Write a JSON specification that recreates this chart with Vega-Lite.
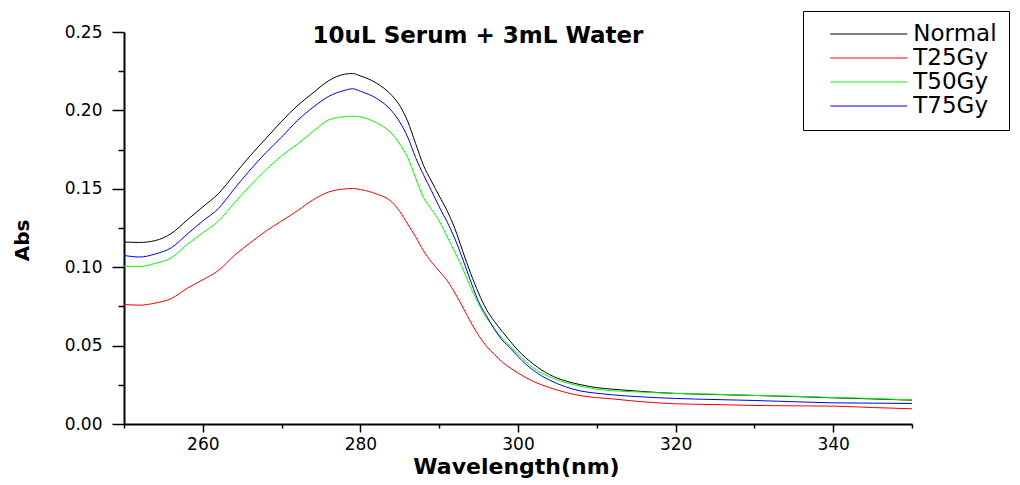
{
  "$schema": "https://vega.github.io/schema/vega-lite/v6.json",
  "width": 788,
  "height": 392,
  "autosize": {"type": "none"},
  "padding": {"left": 124, "top": 32, "right": 108, "bottom": 61},
  "background": "white",
  "config": {"view": {"stroke": null}, "font": "DejaVu Sans"},
  "title": {"text": "10uL Serum + 3mL Water", "font": "DejaVu Sans", "fontSize": 23, "fontWeight": "bold", "color": "black", "anchor": "middle", "frame": "group", "dx": -40, "dy": 55, "offset": 0, "baseline": "alphabetic"},
  "data": {"values": [
    {"w": 250, "Normal": 0.116, "T25Gy": 0.0762, "T50Gy": 0.1006, "T75Gy": 0.1075},
    {"w": 252, "Normal": 0.1158, "T25Gy": 0.0758, "T50Gy": 0.1005, "T75Gy": 0.1065},
    {"w": 254, "Normal": 0.117, "T25Gy": 0.0772, "T50Gy": 0.1025, "T75Gy": 0.1085},
    {"w": 256, "Normal": 0.1215, "T25Gy": 0.08, "T50Gy": 0.106, "T75Gy": 0.1124},
    {"w": 258, "Normal": 0.13, "T25Gy": 0.0865, "T50Gy": 0.1145, "T75Gy": 0.121},
    {"w": 260, "Normal": 0.1385, "T25Gy": 0.092, "T50Gy": 0.122, "T75Gy": 0.1295},
    {"w": 262, "Normal": 0.147, "T25Gy": 0.098, "T50Gy": 0.1295, "T75Gy": 0.1375},
    {"w": 264, "Normal": 0.159, "T25Gy": 0.1075, "T50Gy": 0.141, "T75Gy": 0.15},
    {"w": 266, "Normal": 0.171, "T25Gy": 0.1155, "T50Gy": 0.152, "T75Gy": 0.162},
    {"w": 268, "Normal": 0.182, "T25Gy": 0.123, "T50Gy": 0.1622, "T75Gy": 0.173},
    {"w": 270, "Normal": 0.193, "T25Gy": 0.1295, "T50Gy": 0.171, "T75Gy": 0.183},
    {"w": 272, "Normal": 0.203, "T25Gy": 0.136, "T50Gy": 0.1785, "T75Gy": 0.1935},
    {"w": 274, "Normal": 0.2112, "T25Gy": 0.143, "T50Gy": 0.1867, "T75Gy": 0.202},
    {"w": 276, "Normal": 0.219, "T25Gy": 0.148, "T50Gy": 0.194, "T75Gy": 0.209},
    {"w": 278, "Normal": 0.2231, "T25Gy": 0.1499, "T50Gy": 0.196, "T75Gy": 0.2128},
    {"w": 279, "Normal": 0.2235, "T25Gy": 0.1502, "T50Gy": 0.1963, "T75Gy": 0.2138},
    {"w": 280, "Normal": 0.222, "T25Gy": 0.1495, "T50Gy": 0.1958, "T75Gy": 0.2122},
    {"w": 282, "Normal": 0.2175, "T25Gy": 0.1468, "T50Gy": 0.1922, "T75Gy": 0.2078},
    {"w": 284, "Normal": 0.2095, "T25Gy": 0.1415, "T50Gy": 0.185, "T75Gy": 0.1995},
    {"w": 285, "Normal": 0.203, "T25Gy": 0.1355, "T50Gy": 0.1785, "T75Gy": 0.1925},
    {"w": 286, "Normal": 0.193, "T25Gy": 0.1275, "T50Gy": 0.17, "T75Gy": 0.183},
    {"w": 287, "Normal": 0.179, "T25Gy": 0.1195, "T50Gy": 0.157, "T75Gy": 0.17},
    {"w": 288, "Normal": 0.165, "T25Gy": 0.1105, "T50Gy": 0.1445, "T75Gy": 0.159},
    {"w": 289, "Normal": 0.155, "T25Gy": 0.1035, "T50Gy": 0.137, "T75Gy": 0.149},
    {"w": 290, "Normal": 0.1455, "T25Gy": 0.0975, "T50Gy": 0.1295, "T75Gy": 0.1385},
    {"w": 291, "Normal": 0.136, "T25Gy": 0.0915, "T50Gy": 0.1195, "T75Gy": 0.129},
    {"w": 292, "Normal": 0.1245, "T25Gy": 0.0835, "T50Gy": 0.1095, "T75Gy": 0.118},
    {"w": 293, "Normal": 0.11, "T25Gy": 0.0745, "T50Gy": 0.099, "T75Gy": 0.105},
    {"w": 294, "Normal": 0.096, "T25Gy": 0.065, "T50Gy": 0.087, "T75Gy": 0.091},
    {"w": 295, "Normal": 0.0835, "T25Gy": 0.0565, "T50Gy": 0.0765, "T75Gy": 0.078},
    {"w": 296, "Normal": 0.073, "T25Gy": 0.0496, "T50Gy": 0.0677, "T75Gy": 0.069},
    {"w": 297, "Normal": 0.0655, "T25Gy": 0.0445, "T50Gy": 0.061, "T75Gy": 0.0605},
    {"w": 298, "Normal": 0.059, "T25Gy": 0.0395, "T50Gy": 0.0545, "T75Gy": 0.0535},
    {"w": 299, "Normal": 0.0528, "T25Gy": 0.0358, "T50Gy": 0.0496, "T75Gy": 0.0486},
    {"w": 300, "Normal": 0.047, "T25Gy": 0.0325, "T50Gy": 0.0445, "T75Gy": 0.043},
    {"w": 302, "Normal": 0.038, "T25Gy": 0.027, "T50Gy": 0.0355, "T75Gy": 0.034},
    {"w": 304, "Normal": 0.0315, "T25Gy": 0.0232, "T50Gy": 0.03, "T75Gy": 0.028},
    {"w": 306, "Normal": 0.0275, "T25Gy": 0.0202, "T50Gy": 0.0265, "T75Gy": 0.0238},
    {"w": 308, "Normal": 0.025, "T25Gy": 0.018, "T50Gy": 0.024, "T75Gy": 0.021},
    {"w": 310, "Normal": 0.0232, "T25Gy": 0.0168, "T50Gy": 0.0222, "T75Gy": 0.0196},
    {"w": 312, "Normal": 0.0222, "T25Gy": 0.016, "T50Gy": 0.0212, "T75Gy": 0.0186},
    {"w": 315, "Normal": 0.021, "T25Gy": 0.0145, "T50Gy": 0.0205, "T75Gy": 0.0175},
    {"w": 320, "Normal": 0.0195, "T25Gy": 0.0129, "T50Gy": 0.0195, "T75Gy": 0.0163},
    {"w": 325, "Normal": 0.0188, "T25Gy": 0.0124, "T50Gy": 0.019, "T75Gy": 0.0156},
    {"w": 330, "Normal": 0.0182, "T25Gy": 0.0118, "T50Gy": 0.0182, "T75Gy": 0.015},
    {"w": 335, "Normal": 0.0175, "T25Gy": 0.0116, "T50Gy": 0.0177, "T75Gy": 0.0142},
    {"w": 340, "Normal": 0.0167, "T25Gy": 0.0114, "T50Gy": 0.0169, "T75Gy": 0.0135},
    {"w": 345, "Normal": 0.016, "T25Gy": 0.0105, "T50Gy": 0.0163, "T75Gy": 0.0133},
    {"w": 350, "Normal": 0.0152, "T25Gy": 0.0097, "T50Gy": 0.0153, "T75Gy": 0.0131}
  ]},
  "transform": [{"fold": ["Normal", "T25Gy", "T50Gy", "T75Gy"], "as": ["series", "abs"]}],
  "mark": {"type": "line", "strokeWidth": 1, "interpolate": "monotone"},
  "encoding": {
    "x": {
      "field": "w", "type": "quantitative",
      "scale": {"domain": [250, 350], "nice": false, "zero": false},
      "axis": {
        "title": "Wavelength(nm)", "grid": false,
        "values": [250, 260, 270, 280, 290, 300, 310, 320, 330, 340, 350],
        "labelExpr": "datum.value % 20 == 0 ? datum.label : ''",
        "labelFont": "DejaVu Sans", "labelFontSize": 17, "labelColor": "black", "labelPadding": 4,
        "labelOverlap": false, "labelFlush": false,
        "tickSize": {"condition": {"test": "datum.value % 20 == 0", "value": 8}, "value": 4},
        "tickColor": "black", "tickWidth": 1.5,
        "domainColor": "black", "domainWidth": 2,
        "titleFont": "DejaVu Sans", "titleFontSize": 22, "titleFontWeight": "bold", "titleColor": "black",
        "titleX": 392, "titleY": 42, "titleBaseline": "middle", "titleAlign": "center"
      }
    },
    "y": {
      "field": "abs", "type": "quantitative",
      "scale": {"domain": [0, 0.25], "nice": false},
      "axis": {
        "title": "Abs", "grid": false,
        "values": [0, 0.025, 0.05, 0.075, 0.1, 0.125, 0.15, 0.175, 0.2, 0.225, 0.25],
        "labelExpr": "round(datum.value*1000) % 50 == 0 ? format(datum.value, '.2f') : ''",
        "labelFont": "DejaVu Sans", "labelFontSize": 17, "labelColor": "black", "labelPadding": 10,
        "labelOverlap": false, "labelFlush": false,
        "tickSize": {"condition": {"test": "round(datum.value*1000) % 50 == 0", "value": 12}, "value": 6},
        "tickColor": "black", "tickWidth": 1.5,
        "domainColor": "black", "domainWidth": 2,
        "titleFont": "DejaVu Sans", "titleFontSize": 20, "titleFontWeight": "bold", "titleColor": "black",
        "titleAngle": -90, "titleX": -102, "titleY": 208, "titleBaseline": "middle", "titleAlign": "center"
      }
    },
    "color": {
      "field": "series", "type": "nominal",
      "scale": {"domain": ["Normal", "T25Gy", "T50Gy", "T75Gy"], "range": ["#000000", "#ff0000", "#00ff00", "#0000ff"]},
      "legend": {
        "title": null, "orient": "none", "legendX": 679, "legendY": -21,
        "symbolType": "M-5,0H5", "symbolSize": 237, "symbolStrokeWidth": 1, "symbolOffset": 42.8,
        "labelOffset": 33, "labelFont": "DejaVu Sans", "labelFontSize": 23, "labelColor": "black",
        "labelExpr": "datum.label + ' '",
        "rowPadding": -0.7, "padding": 11.5, "strokeColor": "black", "fillColor": "white"
      }
    }
  }
}
